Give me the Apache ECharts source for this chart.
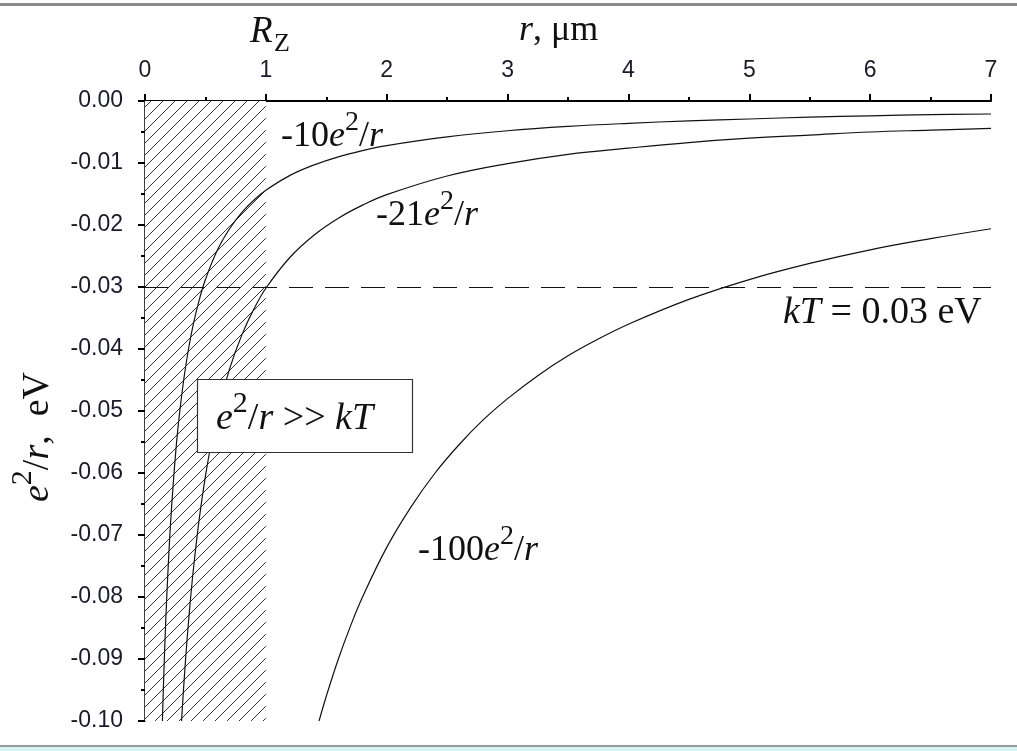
<!DOCTYPE html>
<html>
<head>
<meta charset="utf-8">
<script src="https://cdn.jsdelivr.net/npm/echarts@6/dist/echarts.min.js"></script>
<style>
  html, body { margin: 0; padding: 0; background: #fff; }
  #chart { width: 1017px; height: 751px; }
</style>
</head>
<body>
<div id="chart"></div>
<script>
// Coulomb energy curves -N e^2/r (eV) versus distance r (µm)
const R_10  = [0.144, 0.15, 0.16, 0.17, 0.18, 0.2, 0.22, 0.25, 0.28, 0.32, 0.36, 0.4, 0.45, 0.5, 0.6, 0.7, 0.8, 0.9, 1.0, 1.2, 1.4, 1.6, 1.8, 2.0, 2.5, 3, 3.5, 4, 4.5, 5, 5.5, 6, 6.5, 7];
const U_10  = [-0.1000, -0.0960, -0.0900, -0.0847, -0.0800, -0.0720, -0.0655, -0.0576, -0.0514, -0.0450, -0.0400, -0.0360, -0.0320, -0.0288, -0.0240, -0.0206, -0.0180, -0.0160, -0.0144, -0.0120, -0.0103, -0.0090, -0.0080, -0.0072, -0.0058, -0.0048, -0.0041, -0.0036, -0.0032, -0.0029, -0.0026, -0.0024, -0.0022, -0.0021];

const R_21  = [0.3024, 0.32, 0.34, 0.36, 0.38, 0.4, 0.45, 0.5, 0.55, 0.6, 0.7, 0.8, 0.9, 1.0, 1.2, 1.4, 1.6, 1.8, 2.0, 2.5, 3, 3.5, 4, 4.5, 5, 5.5, 6, 6.5, 7];
const U_21  = [-0.1000, -0.0945, -0.0889, -0.0840, -0.0796, -0.0756, -0.0672, -0.0605, -0.0550, -0.0504, -0.0432, -0.0378, -0.0336, -0.0302, -0.0252, -0.0216, -0.0189, -0.0168, -0.0151, -0.0121, -0.0101, -0.0086, -0.0076, -0.0067, -0.0060, -0.0055, -0.0050, -0.0047, -0.0044];

const R_100 = [1.44, 1.5, 1.6, 1.7, 1.8, 2.0, 2.2, 2.4, 2.6, 2.8, 3.0, 3.25, 3.5, 3.75, 4.0, 4.5, 5.0, 5.5, 6.0, 6.5, 7.0];
const U_100 = [-0.1000, -0.0960, -0.0900, -0.0847, -0.0800, -0.0720, -0.0655, -0.0600, -0.0554, -0.0514, -0.0480, -0.0443, -0.0411, -0.0384, -0.0360, -0.0320, -0.0288, -0.0262, -0.0240, -0.0222, -0.0206];

const KT = -0.03;          // thermal energy level, eV
const R_Z = 1;             // radius of the shaded zone, µm
const X_TICKS = [0, 1, 2, 3, 4, 5, 6, 7];
const Y_TICKS = [0, -0.01, -0.02, -0.03, -0.04, -0.05, -0.06, -0.07, -0.08, -0.09, -0.1];

const SERIF = '"Liberation Serif", "Times New Roman", serif';
const SANS = '"Liberation Sans", Arial, sans-serif';

function pairs(xs, ys) { return xs.map((x, i) => [x, ys[i]]); }

// diagonal hatch tile for the R_Z zone
function hatchTile() {
  const s = 12;
  const c = document.createElement('canvas');
  c.width = s; c.height = s;
  const g = c.getContext('2d');
  g.fillStyle = '#fff';
  g.fillRect(0, 0, s, s);
  g.strokeStyle = '#333';
  g.lineWidth = 1;
  g.beginPath();
  g.moveTo(-1, s + 1); g.lineTo(s + 1, -1);
  g.moveTo(-1, 1); g.lineTo(1, -1);
  g.moveTo(s - 1, s + 1); g.lineTo(s + 1, s - 1);
  g.stroke();
  return c;
}

const chart = echarts.init(document.getElementById('chart'), null, { renderer: 'canvas' });

const curveStyle = { color: '#111', width: 1.2 };

// rich text styles: upright, italic, raised superscript
function rich(size) {
  return {
    n: { fontFamily: SERIF, fontSize: size, color: '#111' },
    i: { fontFamily: SERIF, fontSize: size, fontStyle: 'italic', color: '#111' },
    s: { fontFamily: SERIF, fontSize: Math.round(size * 0.78), color: '#111',
         padding: [0, 0, Math.round(size * 0.78), 0] }
  };
}

function label(x, y, text, size, extra) {
  return Object.assign({
    type: 'text', x: x, y: y, z: 100,
    style: {
      text: text, fontFamily: SERIF, fontSize: size, fill: '#111',
      textAlign: 'left', textVerticalAlign: 'middle', rich: rich(size)
    }
  }, extra || {});
}

const option = {
  backgroundColor: '#fff',
  animation: false,
  grid: { left: 145, right: 26, top: 101, bottom: 30, containLabel: false },
  xAxis: {
    type: 'value', position: 'top', min: 0, max: 7, interval: 1,
    axisLine: { show: true, onZero: false, lineStyle: { color: '#000', width: 2 } },
    axisTick: { show: true, inside: false, length: 7, lineStyle: { color: '#000', width: 2 } },
    minorTick: { show: true, splitNumber: 2, length: 4, lineStyle: { color: '#000', width: 2 } },
    splitLine: { show: false },
    axisLabel: {
      margin: 19, fontFamily: SANS, fontSize: 23, color: '#1a1a2a',
      formatter: v => (X_TICKS.includes(v) ? String(v) : '')
    }
  },
  yAxis: {
    type: 'value', min: -0.1, max: 0, interval: 0.01,
    axisLine: { show: true, onZero: false, lineStyle: { color: '#000', width: 1.5 } },
    axisTick: { show: true, inside: false, length: 7, lineStyle: { color: '#000', width: 2 } },
    minorTick: { show: true, splitNumber: 2, length: 4, lineStyle: { color: '#000', width: 2 } },
    splitLine: { show: false },
    axisLabel: {
      margin: 22, fontFamily: SANS, fontSize: 23, color: '#1a1a2a',
      formatter: v => {
        const t = Y_TICKS.find(k => Math.abs(k - v) < 1e-9);
        return t === undefined ? '' : (t === 0 ? '0.00' : t.toFixed(2));
      }
    }
  },
  series: [
    {
      type: 'line', data: pairs(R_10, U_10), smooth: 0.4,
      showSymbol: false, lineStyle: curveStyle, z: 3,
      markArea: {
        silent: true,
        itemStyle: { color: { image: hatchTile(), repeat: 'repeat' } },
        data: [[{ xAxis: 0, yAxis: -0.1 }, { xAxis: R_Z, yAxis: 0 }]]
      },
      markLine: {
        silent: true, symbol: 'none', label: { show: false },
        lineStyle: { color: '#111', width: 1.2, type: [24, 12] },
        data: [{ yAxis: KT }]
      }
    },
    {
      type: 'line', data: pairs(R_21, U_21), smooth: 0.4,
      showSymbol: false, lineStyle: curveStyle, z: 3
    },
    {
      type: 'line', data: pairs(R_100, U_100), smooth: 0.4,
      showSymbol: false, lineStyle: curveStyle, z: 3
    }
  ],
  graphic: [
    // frame strips
    { type: 'rect', shape: { x: 0, y: 3, width: 1017, height: 3 }, style: { fill: '#8a8a8a' }, z: 50 },
    { type: 'rect', shape: { x: 0, y: 745, width: 1017, height: 2 }, style: { fill: '#9a9a9a' }, z: 50 },
    { type: 'rect', shape: { x: 0, y: 747, width: 1017, height: 4 }, style: { fill: '#d6f3f5' }, z: 50 },

    // axis titles
    {
      type: 'text', x: 250, y: 32, z: 100,
      style: { text: 'R', fontFamily: SERIF, fontSize: 37, fontStyle: 'italic', fill: '#111', textAlign: 'left', textVerticalAlign: 'middle' }
    },
    {
      type: 'text', x: 274, y: 44, z: 100,
      style: { text: 'Z', fontFamily: SERIF, fontSize: 26, fill: '#111', textAlign: 'left', textVerticalAlign: 'middle' }
    },
    label(519, 31, '{i|r}{n|, μm}', 36),
    {
      type: 'text', x: 38, y: 437, rotation: Math.PI / 2, z: 100,
      style: {
        text: '{i|e}{s|2}{n|/}{i|r}{n|,  eV}', fontFamily: SERIF, fontSize: 38, fill: '#111',
        textAlign: 'center', textVerticalAlign: 'middle', rich: rich(38)
      }
    },

    // curve labels
    label(281, 137, '{n|-10}{i|e}{s|2}{n|/}{i|r}', 36),
    label(376, 216, '{n|-21}{i|e}{s|2}{n|/}{i|r}', 36),
    label(418, 551, '{n|-100}{i|e}{s|2}{n|/}{i|r}', 36),
    label(783, 313, '{i|kT}{n| = 0.03 eV}', 38),

    // condition box
    {
      type: 'rect', z: 90,
      shape: { x: 197.5, y: 379.5, width: 215, height: 73 },
      style: { fill: '#fff', stroke: '#333', lineWidth: 1.2 }
    },
    label(216, 419, '{i|e}{s|2}{n|/}{i|r}{n| >> }{i|kT}', 38)
  ]
};

chart.setOption(option);
</script>
</body>
</html>
